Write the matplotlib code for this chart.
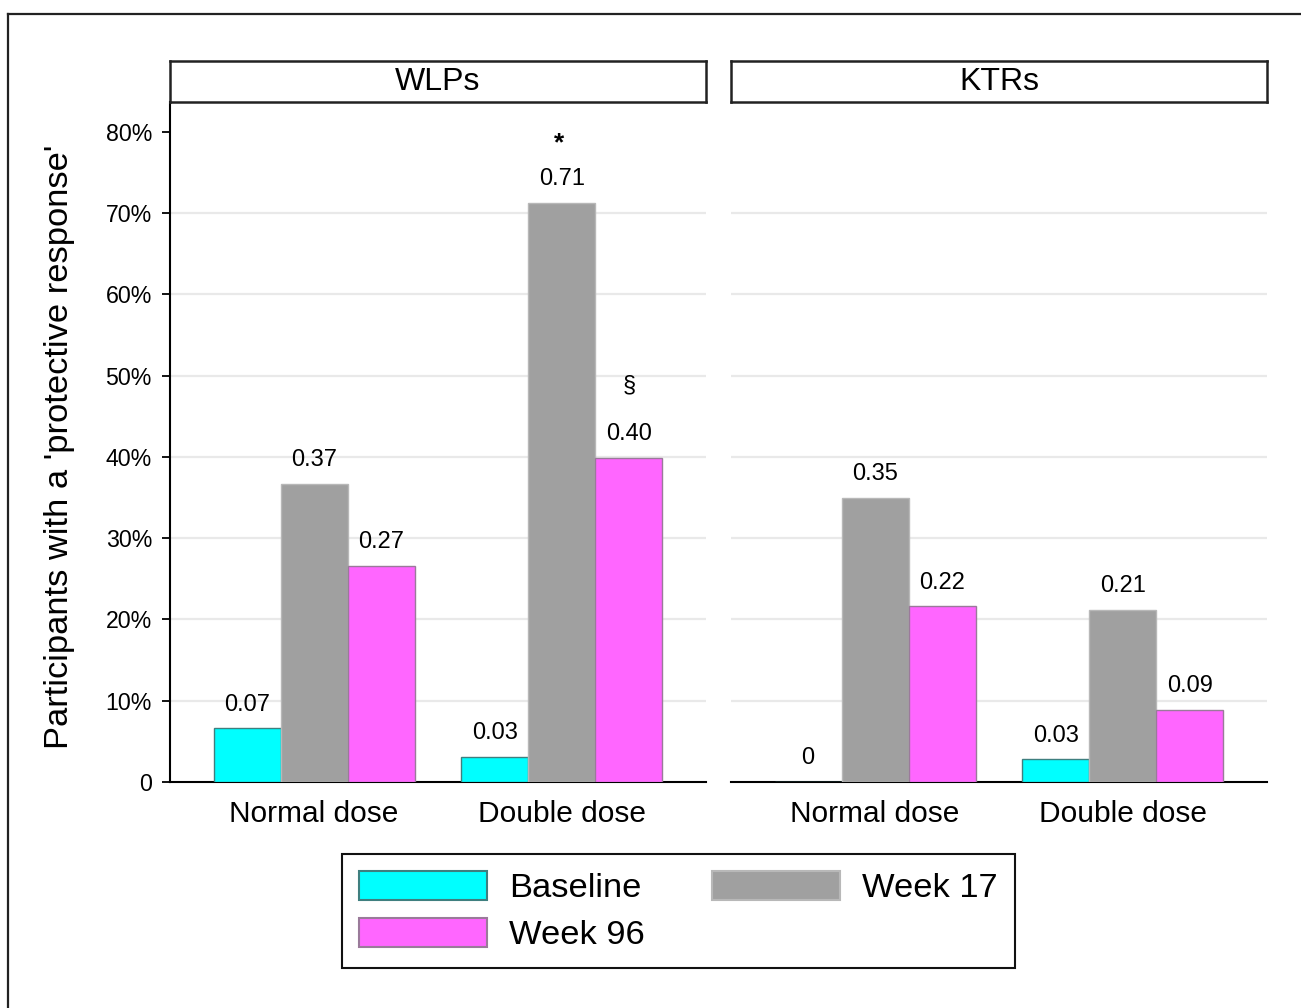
#!/usr/bin/env python3

import numpy as np
import matplotlib
matplotlib.use("Agg")
import matplotlib.pyplot as plt
from matplotlib.lines import Line2D
from matplotlib.patches import Patch

plt.rcParams['font.family'] = ['Liberation Sans', 'DejaVu Sans']

panels = ["WLPs", "KTRs"]
doses = ["Normal dose", "Double dose"]
series = ["Baseline", "Week 17", "Week 96"]
# values per panel: [normal dose, double dose]
baseline = {"WLPs": [0.066, 0.031], "KTRs": [0.0, 0.028]}
week17 = {"WLPs": [0.367, 0.713], "KTRs": [0.35, 0.212]}
week96 = {"WLPs": [0.266, 0.399], "KTRs": [0.216, 0.089]}
# significance marks: (panel, dose index, series index, symbol)
marks = [("WLPs", 1, 1, "*"), ("WLPs", 1, 2, "\u00a7")]

yticks = [0, 0.1, 0.2, 0.3, 0.4, 0.5, 0.6, 0.7, 0.8]
yticklabels = ["0", "10%", "20%", "30%", "40%", "50%", "60%", "70%", "80%"]

colors = ["#00FFFF", "#A0A0A0", "#FF66FF"]
edges = ["#3f7f7f", "#b8b8b8", "#9a7a9a"]

W, H = 1301, 1008


def px_axes(fig, x0, y0, x1, y1):
    return fig.add_axes([x0 / W, 1 - y1 / H, (x1 - x0) / W, (y1 - y0) / H])


def label(v):
    return "0" if v == 0 else f"{v:.2f}"


def main():
    fig = plt.figure(figsize=(W / 100, H / 100), dpi=100)

    # outer frame (only left and top visible)
    fig.add_artist(Line2D([8 / W, 8 / W], [0, 1 - 14 / H], color="#222222", lw=1.6))
    fig.add_artist(Line2D([8 / W, 1], [1 - 14 / H, 1 - 14 / H], color="#222222", lw=1.6))

    group_x = np.array([0.269, 0.731])
    bw = 0.125
    lefts = [170, 731]
    for i, name in enumerate(panels):
        x0 = lefts[i]
        ax = px_axes(fig, x0, 102, x0 + 536, 782)
        data = [baseline[name], week17[name], week96[name]]
        for k in range(3):
            xs = group_x + (k - 1) * bw
            ax.bar(xs, data[k], bw, color=colors[k], edgecolor=edges[k],
                   linewidth=1.0, zorder=3)
            for x, v in zip(xs, data[k]):
                ax.annotate(label(v), (x, v), xytext=(0, 9), textcoords="offset points",
                            ha="center", va="bottom", fontsize=17, zorder=4)
        for p, d, s, sym in marks:
            if p != name:
                continue
            v = data[s][d]
            x = group_x[d] + (s - 1) * bw
            off = 38 if sym == "*" else 48
            ax.annotate(sym, (x, v), xytext=(-2 if sym == "*" else 0, off),
                        textcoords="offset points", ha="center", va="baseline",
                        fontsize=19 if sym == "*" else 17,
                        fontweight="bold" if sym == "*" else "normal")

        ax.set_xlim(0, 1)
        ax.set_ylim(0, 0.8369)
        for g in yticks[1:-1]:
            ax.axhline(g, color="#e9e9e9", lw=1.6, zorder=1)
        ax.set_xticks(group_x)
        ax.set_xticklabels(doses, fontsize=21.5)
        ax.tick_params(axis="x", length=0, pad=13)
        for s in ["top", "right"]:
            ax.spines[s].set_visible(False)
        ax.spines["bottom"].set_linewidth(1.5)
        if i == 0:
            ax.set_yticks(yticks)
            ax.set_yticklabels(yticklabels, fontsize=16.7)
            ax.tick_params(axis="y", length=6, width=1.3, pad=7)
            ax.spines["left"].set_linewidth(1.5)
        else:
            ax.set_yticks([])
            ax.spines["left"].set_visible(False)

        # strip header
        st = px_axes(fig, x0, 61, x0 + 536, 102)
        st.set_xticks([])
        st.set_yticks([])
        for s in st.spines.values():
            s.set_linewidth(1.8)
            s.set_color("#222222")
        st.text(0.5, 0.48, name, ha="center", va="center", fontsize=23,
                transform=st.transAxes)

    fig.text(60 / W, 1 - 447 / H, "Participants with a 'protective response'",
             rotation=90, ha="center", va="center", fontsize=24.8)

    handles = [Patch(facecolor=colors[k], edgecolor=edges[k], linewidth=1.5) for k in range(3)]
    order = [0, 2, 1]
    leg = fig.legend([handles[k] for k in order], [series[k] for k in order],
                     loc="center", bbox_to_anchor=(678.5 / W, 1 - 911 / H), ncol=2,
                     fontsize=24.8, handlelength=3.7, handleheight=0.93,
                     handletextpad=0.65, columnspacing=1.95, labelspacing=0.38,
                     borderpad=0.5, fancybox=False, framealpha=1)
    leg.get_frame().set_edgecolor("#111111")
    leg.get_frame().set_linewidth(1.5)

    fig.savefig("out.png", dpi=100)


if __name__ == "__main__":
    main()
